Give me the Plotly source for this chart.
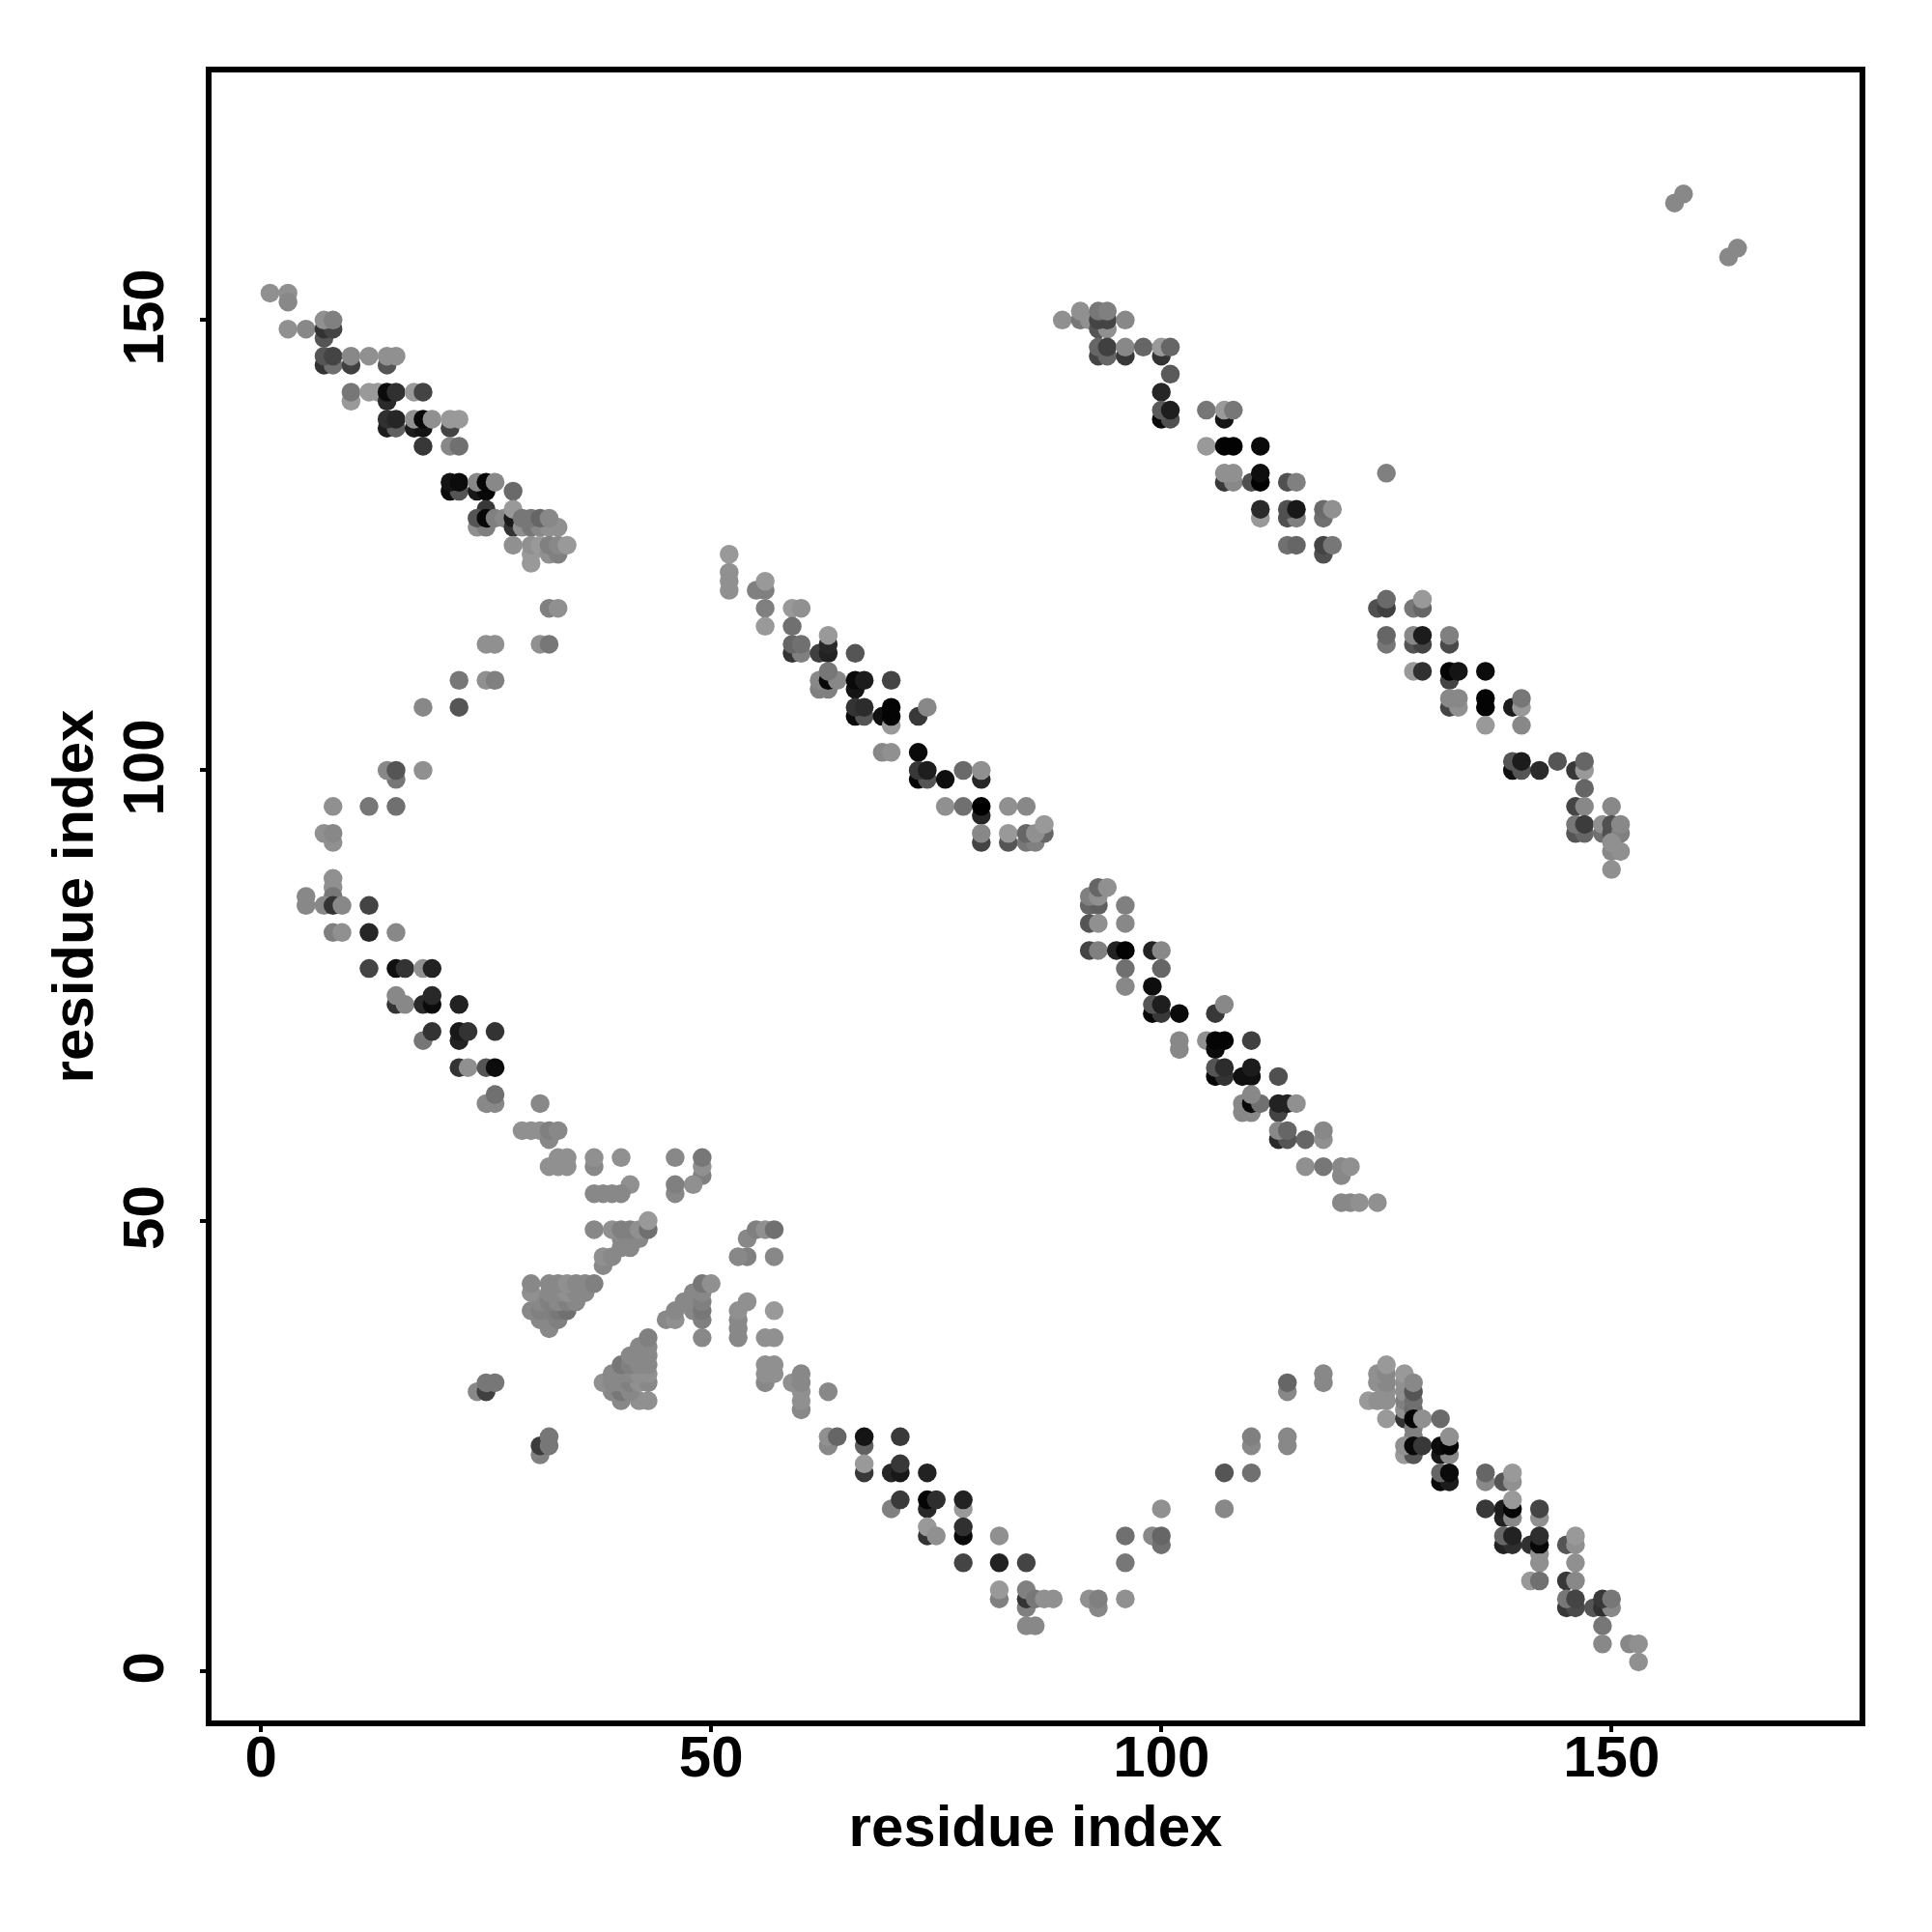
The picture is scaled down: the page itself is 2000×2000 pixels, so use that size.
import plotly.graph_objects as go

# (residue i, residue j, grey level 0-255)
band_a1 = [(1,153,0x90),(3,153,0x90),(3,152,0x88),(3,149,0x90),(5,149,0x88),(7,148,0x55),(7,149,0x33),(8,149,0x44),(7,150,0x90),(8,150,0x80),
 (7,145,0x33),(8,145,0x70),(7,146,0x55),(8,146,0x44),(10,145,0x40),(10,146,0x88),(12,146,0x90),(14,145,0x55),(14,146,0x90),(15,146,0x90),
 (10,141,0x99),(10,142,0x77),(12,142,0x99),(13,142,0x99),(14,141,0x2a),(14,142,0x0c),(15,142,0x30),(17,142,0x99),(18,142,0x44),
 (14,138,0x1c),(15,138,0x60),(14,139,0x30),(15,139,0x26),(17,138,0x1c),(18,138,0x14),(17,139,0x90),(18,139,0x08),(19,139,0x90),(21,138,0x44),(21,139,0x99),(22,139,0x99),
 (18,136,0x38),(21,136,0x88),(22,136,0x70)]
band_a2 = [(21,131,0x0c),(22,131,0x55),(21,132,0x14),(22,132,0x0c),(24,131,0x18),(25,131,0x08),(24,132,0x88),(25,132,0x06),(26,132,0x88),(28,131,0x6a),
 (25,129,0x38),(24,127,0x90),(25,127,0x80),(24,128,0x55),(25,128,0x08),(26,128,0x80),(27,128,0x88),(28,127,0x33),(28,128,0x18),(28,129,0x99),
 (29,127,0x90),(30,127,0x77),(31,127,0x88),(32,127,0x90),(33,127,0x90),(29,128,0x77),(30,128,0x77),(31,128,0x66),(32,128,0x88),
 (28,125,0x90),(30,123,0x99),(30,124,0x99),(30,125,0x90),(31,125,0x99),(32,124,0x90),(33,124,0x80),(32,125,0x80),(33,125,0x88),(34,125,0x99),
 (32,118,0x80),(33,118,0x90)]
arc_a = [(25,114,0x90),(26,114,0x90),(31,114,0x90),(32,114,0x77),(22,110,0x77),(25,110,0x90),(26,110,0x80),(18,107,0x88),(22,107,0x55),
 (15,99,0x77),(14,100,0x88),(15,100,0x55),(18,100,0x90),(8,96,0x90),(12,96,0x77),(15,96,0x70),(8,92,0x90),(7,93,0x90),(8,93,0x88),
 (5,85,0x88),(5,86,0x88),(8,88,0x90),(8,87,0x90),(8,86,0x77),(7,85,0x88),(8,85,0x33),(9,85,0x88),(12,85,0x44),
 (8,82,0x80),(9,82,0x90),(12,82,0x26),(15,82,0x88)]
band_b = [(12,78,0x44),(15,78,0x10),(16,78,0x33),(18,78,0x90),(19,78,0x22),(15,74,0x33),(15,75,0x88),(16,74,0x88),(18,74,0x2a),(19,74,0x0c),(19,75,0x28),(22,74,0x22),
 (18,70,0x77),(19,71,0x33),(22,70,0x22),(22,71,0x18),(23,71,0x33),(26,71,0x33),(22,67,0x33),(23,67,0x90),(25,67,0x55),(26,67,0x0c),
 (25,63,0x88),(26,63,0x88),(26,64,0x70),(31,63,0x88),
 (29,60,0x90),(30,60,0x90),(31,60,0x90),(32,59,0x88),(32,60,0x80),(33,60,0x88),
 (32,56,0x90),(33,56,0x90),(34,56,0x90),(33,57,0x90),(34,57,0x90),(37,56,0x88),(37,57,0x90),(40,57,0x90),(46,57,0x88),(49,55,0x80),(49,56,0x90),(49,57,0x77),
 (41,54,0x90),(48,54,0x90),(37,53,0x88),(38,53,0x88),(39,53,0x88),(40,53,0x88),(46,53,0x88),(46,54,0x80)]
diag_c = [(37,49,0x88),(38,45,0x88),(38,46,0x90),(39,46,0x88),(40,47,0x88),(41,47,0x88),(40,48,0x88),(41,48,0x88),(42,48,0x88),
 (39,49,0x90),(40,49,0x80),(41,49,0x80),(42,49,0x90),(43,49,0x70),(43,50,0x99),
 (54,46,0x80),(53,46,0x88),(57,46,0x88),(54,48,0x88),(55,49,0x80),(56,49,0x90),(57,49,0x70)]
triangle_d = [(32,38,0x88),(31,39,0x88),(32,39,0x88),(33,39,0x80),(30,40,0x88),(31,40,0x80),(32,40,0x80),(33,40,0x78),(34,40,0x70),
 (31,41,0x88),(32,41,0x80),(33,41,0x88),(34,41,0x80),(35,41,0x88),(30,42,0x90),(32,42,0x88),(33,42,0x88),(34,42,0x90),(35,42,0x88),(36,42,0x88),
 (30,43,0x88),(32,43,0x88),(33,43,0x88),(34,43,0x90),(35,43,0x88),(36,43,0x88),(37,43,0x80)]
diag_e = [(45,39,0x88),(46,39,0x90),(46,40,0x88),(47,41,0x88),(48,40,0x88),(48,41,0x88),(48,42,0x88),(49,37,0x88),(49,39,0x80),(49,40,0x77),(49,41,0x80),(49,42,0x88),(49,43,0x77),(50,43,0x90),
 (53,37,0x88),(53,38,0x88),(53,39,0x88),(53,40,0x90),(54,41,0x90),(57,40,0x99),(56,37,0x90),(57,37,0x90),
 (56,32,0x88),(56,33,0x90),(57,33,0x90),(56,34,0x90),(57,34,0x90),(59,32,0x90),(60,29,0x88),(60,30,0x90),(60,31,0x90),(60,32,0x88),(60,33,0x88),(63,31,0x88)]
triangle_f = [(40,30,0x88),(42,30,0x90),(43,30,0x90),(39,31,0x88),(40,31,0x77),(41,31,0x88),(38,32,0x90),(39,32,0x88),(40,32,0x88),(41,32,0x80),(42,32,0x90),(43,32,0x88),
 (39,33,0x88),(40,33,0x88),(41,33,0x88),(42,33,0x90),(43,33,0x90),(40,34,0x77),(41,34,0x80),(42,34,0x88),(43,34,0x88),
 (41,35,0x88),(42,35,0x88),(43,35,0x88),(42,36,0x88),(43,36,0x88),(43,37,0x80),
 (24,31,0x88),(25,31,0x40),(25,32,0x77),(26,32,0x77),(31,24,0x80),(31,25,0x3c),(32,25,0x77),(32,26,0x77)]
band_g = [(63,25,0x88),(63,26,0x90),(64,26,0x66),(67,25,0x60),(67,26,0x14),(71,26,0x3a),(67,22,0x38),(67,23,0x99),(70,22,0x26),(71,22,0x18),(71,23,0x38),(74,22,0x22),
 (70,18,0x80),(71,19,0x3a),(74,18,0x28),(74,19,0x05),(75,19,0x2e),(78,18,0x99),(78,19,0x22),(74,15,0x33),(74,16,0x99),(75,15,0x90),(78,15,0x0a),(78,16,0x30),(82,15,0x90),
 (78,12,0x44),(82,12,0x22),(85,12,0x44),(82,8,0x80),(82,9,0x99),(85,7,0x80),(85,8,0x33),(85,9,0x80),(86,8,0x77),(87,8,0x90),(88,8,0x90),(85,5,0x88),(86,5,0x88),
 (92,8,0x90),(93,7,0x88),(93,8,0x80),(96,8,0x90),(96,12,0x77),(96,15,0x70)]
arc_h = [(100,18,0x90),(99,15,0x88),(100,14,0x70),(100,15,0x66),(107,18,0x88),(107,22,0x55),(110,22,0x70),(110,25,0x88),(110,26,0x80),
 (114,25,0x88),(114,26,0x88),(114,31,0x88),(114,32,0x66),(118,32,0x88),(118,33,0x88)]
band_i = [(125,28,0x99),(123,30,0x99),(124,30,0x90),(125,30,0x90),(125,31,0x90),(124,32,0x90),(125,32,0x88),(124,33,0x90),(125,33,0x88),(125,34,0x99),
 (127,28,0x33),(127,29,0x90),(127,30,0x80),(127,31,0x90),(127,32,0x90),(127,33,0x99),(128,29,0x6a),(128,30,0x70),(128,31,0x55),(128,32,0x88),
 (128,26,0x80),(128,27,0x80),(128,28,0x05),(129,28,0x90),(131,28,0x6a),
 (127,24,0x99),(128,24,0x55),(127,25,0x90),(128,25,0x08),(129,25,0x38),(131,24,0x18),(132,24,0x88),(131,25,0x0c),(132,25,0x05),(132,26,0x90),
 (131,21,0x0a),(132,21,0x1c),(131,22,0x66),(132,22,0x0a),(136,21,0x88),(136,22,0x66),(138,21,0x55),(139,21,0x90),(139,22,0x99),
 (136,18,0x38),(138,17,0x22),(138,18,0x1c),(139,17,0x88),(139,18,0x05),(139,19,0x99),(142,17,0x90),(142,18,0x44),
 (138,14,0x22),(139,14,0x2e),(138,15,0x66),(139,15,0x22),(141,14,0x30),(142,13,0x90),(142,14,0x08),(142,15,0x2e),(142,12,0x90),(141,10,0x99),(142,10,0x70),
 (145,14,0x55),(146,14,0x90),(146,15,0x99),(146,12,0x90),(145,10,0x38),(146,10,0x88),(145,7,0x38),(146,7,0x4a),(145,8,0x77),(146,8,0x44),
 (148,7,0x55),(149,7,0x30),(150,7,0x88),(149,8,0x38),(150,8,0x77),(149,5,0x77),(149,3,0x88),(152,3,0x88),(153,3,0x90),(153,1,0x90)]
band_j = [(52,120,0x90),(52,121,0x90),(52,122,0x90),(52,124,0x99),(55,120,0x80),(56,120,0x80),(56,121,0x99),(56,118,0x80),(56,116,0x99),(59,118,0x99),(60,118,0x90),(59,116,0x70),
 (59,113,0x33),(60,113,0x80),(59,114,0x66),(60,114,0x70),(62,113,0x40),(63,113,0x22),(63,114,0x28),(63,115,0x99),(66,113,0x55),
 (62,109,0x80),(63,109,0x80),(62,110,0x88),(63,110,0x08),(64,110,0x88),(63,111,0x77),(66,109,0x14),(66,110,0x0a),(67,110,0x1c),(70,110,0x44),
 (66,106,0x0a),(67,106,0x55),(66,107,0x33),(67,107,0x2c),(69,106,0x10),(70,105,0x99),(70,106,0x04),(70,107,0x04),(73,106,0x38),(74,107,0x88),
 (69,102,0x88),(70,102,0x90),(73,102,0x0a),(73,99,0x04),(74,99,0x55),(73,100,0x38),(74,100,0x1e),(76,99,0x0e),(78,100,0x6a),(80,99,0x26),(80,100,0x90),
 (76,96,0x90),(78,96,0x70),(80,95,0x26),(80,96,0x00),(83,96,0x90),(85,96,0x88),
 (80,92,0x44),(80,93,0x88),(83,92,0x55),(83,93,0x99),(85,92,0x77),(86,92,0x80),(87,93,0x66),(85,93,0x66),(86,93,0x90),(87,94,0x99)]
band_k = [(92,85,0x66),(93,85,0x60),(92,86,0x80),(93,86,0x90),(93,87,0x66),(94,87,0x90),(96,85,0x80),(92,83,0x55),(93,83,0x90),(96,83,0x88),
 (92,80,0x44),(93,80,0x80),(95,80,0x22),(96,80,0x02),(99,80,0x22),(100,80,0x88),(96,78,0x70),(100,78,0x66),(96,76,0x88),(99,76,0x0e),
 (99,73,0x06),(100,73,0x38),(99,74,0x55),(100,74,0x1e),(102,73,0x0a),(106,73,0x38),(107,74,0x88),
 (102,69,0x88),(102,70,0x88),(105,70,0x90),(106,69,0x0c),(106,70,0x04),(107,70,0x04),(110,70,0x40),
 (106,66,0x06),(107,66,0x33),(106,67,0x55),(107,67,0x2c),(109,66,0x10),(110,66,0x10),(110,67,0x1c),(113,66,0x50),
 (109,62,0x88),(110,62,0x88),(109,63,0x88),(110,63,0x08),(111,63,0x70),(110,64,0x88),(113,62,0x44),(113,63,0x22),(114,63,0x22),(115,63,0x90),
 (113,59,0x2a),(114,59,0x55),(113,60,0x88),(114,60,0x66),(116,59,0x66),(118,59,0x90),(118,60,0x88),
 (116,56,0x90),(118,56,0x77),(120,55,0x88),(120,56,0x88),(121,56,0x90),(120,52,0x88),(121,52,0x88),(122,52,0x90),(124,52,0x90)]
band_l = [(89,150,0x90),(91,150,0x77),(91,151,0x90),(92,150,0x90),(93,149,0x55),(94,149,0x90),(93,150,0x44),(94,150,0x44),(93,151,0x77),(94,151,0x80),(96,150,0x88),
 (93,146,0x44),(94,146,0x66),(93,147,0x66),(94,147,0x40),(96,146,0x38),(96,147,0x88),(98,147,0x66),(100,146,0x33),(100,147,0x99),(101,147,0x66),
 (101,144,0x5a),(100,142,0x26),(100,139,0x0a),(101,139,0x50),(100,140,0x5a),(101,140,0x1e),(105,140,0x77),(107,139,0x14),(107,140,0x99),(108,140,0x77),
 (105,136,0x99),(107,136,0x02),(108,136,0x02),(111,136,0x0a),(107,132,0x38),(108,132,0x88),(107,133,0x90),(108,133,0x90),(110,132,0x50),(111,132,0x02),(111,133,0x0e),(114,132,0x50),(115,132,0x80),
 (111,128,0x99),(111,129,0x2a),(114,128,0x50),(115,128,0x80),(114,129,0x50),(115,129,0x18),(118,128,0x70),(118,129,0x6a),(119,129,0x90),
 (114,125,0x70),(115,125,0x66),(118,124,0x50),(118,125,0x44),(119,125,0x77),(125,133,0x80)]
band_m = [(124,118,0x50),(125,118,0x40),(125,119,0x6a),(128,118,0x77),(129,118,0x66),(129,119,0x99),(125,114,0x77),(125,115,0x66),(128,114,0x55),(129,114,0x44),(128,115,0x88),(129,115,0x1c),(132,114,0x4a),(132,115,0x80),
 (128,111,0x99),(129,111,0x30),(132,110,0x44),(132,111,0x04),(133,111,0x14),(136,111,0x0c),(132,107,0x44),(133,107,0x90),(132,108,0x88),(133,108,0x88),(136,107,0x04),(136,108,0x04),(136,105,0x99),
 (139,107,0x1c),(140,107,0x99),(140,108,0x77),(140,105,0x88),(139,100,0x10),(140,100,0x55),(139,101,0x55),(140,101,0x1c),(142,100,0x2a),(144,101,0x55),(146,100,0x38),(147,100,0x99),(147,101,0x66),
 (147,98,0x66),(146,96,0x44),(147,96,0x88),(150,96,0x88),(146,93,0x55),(147,93,0x66),(146,94,0x77),(147,94,0x3c),(149,93,0x70),(149,94,0x90),(150,93,0x50),(150,94,0x50),(151,93,0x80),(151,94,0x88),
 (150,91,0x88),(150,92,0x90),(151,91,0x90),(150,89,0x90)]
far_corner = [(157,163,0x88),(158,164,0x88),(163,157,0x88),(164,158,0x88)]

clusters = [band_a1, band_a2, arc_a, band_b, diag_c, triangle_d, diag_e, triangle_f, band_g, arc_h, band_i, band_j, band_k, band_l, band_m, far_corner]
tick_values = [0, 50, 100, 150]
axis_title = "residue index"

fig = go.Figure()
for c in clusters:
    fig.add_trace(go.Scatter(
        x=[p[0] for p in c], y=[p[1] for p in c], mode="markers", showlegend=False,
        marker=dict(size=19.5, color=[f"rgb({p[2]},{p[2]},{p[2]})" for p in c], line=dict(width=0)),
    ))

axis_common = dict(
    tickvals=tick_values, ticktext=[str(v) for v in tick_values], ticks="outside", ticklen=6, tickwidth=3.5,
    tickcolor="black", showline=True, linewidth=5.5, linecolor="black", mirror=True, showgrid=False, zeroline=False,
    tickfont=dict(family="Liberation Sans", size=60, color="black", weight="bold"),
    automargin=False,
)
title_font = dict(family="Liberation Sans", size=60, color="black", weight="bold")
fig.update_xaxes(range=[-5.49, 177.55], ticklabelstandoff=-26, title=dict(text=axis_title, standoff=20, font=title_font), **axis_common)
fig.update_yaxes(range=[-5.5, 177.5], tickangle=-90, ticklabelstandoff=14, ticklabelshift=6, title=dict(text=axis_title, standoff=1, font=title_font), **axis_common)
fig.update_layout(width=2000, height=2000, margin=dict(l=219, r=75, t=75, b=219, pad=0), paper_bgcolor="white", plot_bgcolor="white")
fig.write_html("out.html", config=dict(displayModeBar=False), post_script="document.body.style.margin='0';")
